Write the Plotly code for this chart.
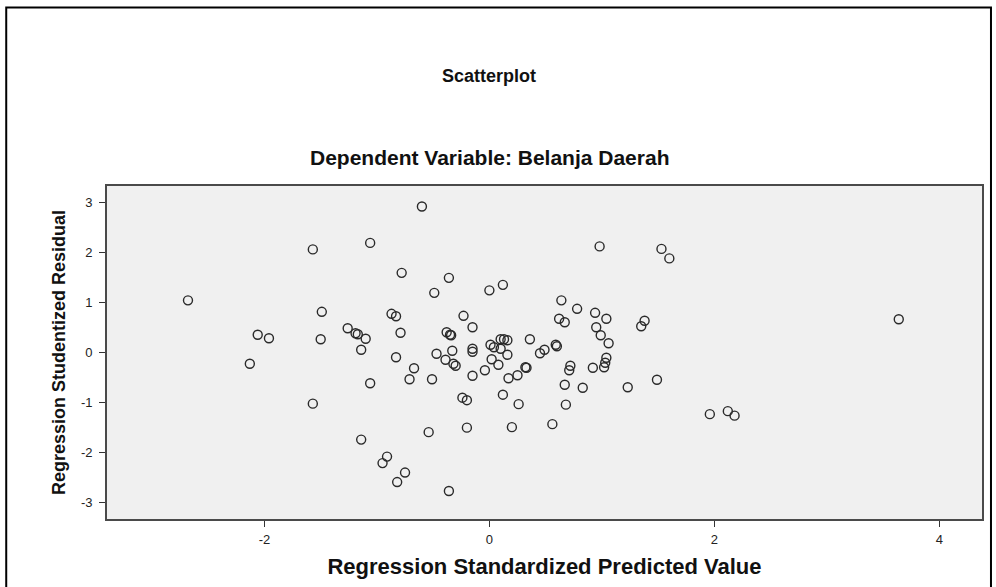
import plotly.graph_objects as go

# Regression Standardized Predicted Value
pred = [-2.68, -1.57, -1.06, -1.49, -0.87, -0.83, -2.06, -1.96, -1.50, -1.26,
        -1.19, -1.17, -1.10, -1.14, -2.13, -1.06, -1.57, -1.14, -0.95, -0.91,
        -0.60, 0.98, 1.53, 1.60, -0.78, -0.36, -0.49, 0.00, 0.12, 0.64,
        0.78, 0.94, 1.04, 1.38, 1.35, 0.62, 0.67, 0.95, 0.99, 1.06,
        -0.23, -0.15, -0.79, -0.38, -0.35, -0.34, 0.36, 0.10, 0.13, 0.16,
        0.01, 0.04, 0.10, -0.15, -0.15, -0.33, -0.47, 0.49, 0.45, 0.59,
        0.60, -0.83, 1.04, -0.39, -0.32, -0.30, 0.16, 0.02, 0.08, -0.04,
        -0.15, -0.67, -0.71, -0.51, 0.17, 0.25, 0.32, 0.33, 0.72, 0.71,
        0.92, 1.03, 1.02, 0.67, 0.83, 1.23, 1.49, -0.24, -0.20, 0.12,
        0.26, 0.68, -0.54, -0.20, 0.20, 0.56, -0.75, -0.82, -0.36, 3.64,
        1.96, 2.12, 2.18]
# Regression Studentized Residual
resid = [1.04, 2.06, 2.19, 0.81, 0.77, 0.72, 0.35, 0.28, 0.26, 0.48,
         0.38, 0.36, 0.27, 0.05, -0.23, -0.62, -1.03, -1.75, -2.22, -2.09,
         2.92, 2.12, 2.07, 1.88, 1.59, 1.49, 1.19, 1.24, 1.35, 1.04,
         0.87, 0.79, 0.67, 0.63, 0.52, 0.67, 0.60, 0.50, 0.34, 0.18,
         0.73, 0.50, 0.39, 0.40, 0.35, 0.34, 0.26, 0.26, 0.26, 0.24,
         0.15, 0.10, 0.07, 0.07, 0.01, 0.03, -0.03, 0.05, -0.02, 0.15,
         0.12, -0.10, -0.11, -0.15, -0.23, -0.27, -0.05, -0.14, -0.25, -0.36,
         -0.47, -0.32, -0.54, -0.54, -0.52, -0.46, -0.30, -0.31, -0.27, -0.36,
         -0.31, -0.21, -0.30, -0.65, -0.71, -0.70, -0.55, -0.91, -0.96, -0.85,
         -1.04, -1.05, -1.60, -1.51, -1.50, -1.44, -2.41, -2.60, -2.78, 0.66,
         -1.24, -1.18, -1.27]

x_ticks = [-2, 0, 2, 4]
y_ticks = [-3, -2, -1, 0, 1, 2, 3]

FONT = "Liberation Sans, Arial, sans-serif"

fig = go.Figure()
fig.add_trace(go.Scatter(
    x=pred, y=resid, mode="markers",
    marker=dict(symbol="circle-open", size=9, color="#2a2a2a",
                line=dict(width=1.4, color="#2a2a2a")),
    showlegend=False, hoverinfo="x+y"))

axis_common = dict(
    showgrid=False, zeroline=False,
    showline=True, mirror=True, linecolor="#4a4a4a", linewidth=1.6,
    ticks="outside", ticklen=6, tickwidth=1.2, tickcolor="#333333",
    tickfont=dict(family=FONT, size=13, color="#222222"),
)

fig.update_layout(
    width=996, height=587,
    paper_bgcolor="white", plot_bgcolor="#f0f0f0",
    margin=dict(l=107, r=12, t=186, b=65),
    xaxis=dict(range=[-3.40, 4.38], tickvals=x_ticks,
               ticktext=[str(v) for v in x_ticks],
               ticklabelstandoff=2,
               title=dict(text="<b>Regression Standardized Predicted Value</b>",
                          font=dict(family=FONT, size=22, color="#111111"),
                          standoff=12),
               **axis_common),
    yaxis=dict(range=[-3.34, 3.33], tickvals=y_ticks,
               ticktext=[str(v) for v in y_ticks],
               ticklabelstandoff=4,
               title=dict(text="<b>Regression Studentized Residual</b>",
                          font=dict(family=FONT, size=18, color="#111111"),
                          standoff=11),
               **axis_common),
    annotations=[
        dict(text="<b>Scatterplot</b>", xref="paper", yref="paper",
             x=(490 - 107) / 877, y=(522 - 75) / 336, showarrow=False,
             xanchor="center", yanchor="middle",
             font=dict(family=FONT, size=18, color="#111111")),
        dict(text="<b>Dependent Variable: Belanja Daerah</b>", xref="paper", yref="paper",
             x=(490 - 107) / 877, y=(522 - 157) / 336, showarrow=False,
             xanchor="center", yanchor="middle",
             font=dict(family=FONT, size=21, color="#111111")),
    ],
    shapes=[
        dict(type="rect", xref="paper", yref="paper",
             x0=(6 - 107) / 877, x1=(993 - 107) / 877,
             y0=(522 - 600) / 336, y1=(522 - 6) / 336,
             line=dict(color="black", width=2), fillcolor="rgba(0,0,0,0)",
             layer="below"),
    ],
)

fig.write_html("out.html", config={"displayModeBar": False},
               post_script="document.body.style.margin='0';")
